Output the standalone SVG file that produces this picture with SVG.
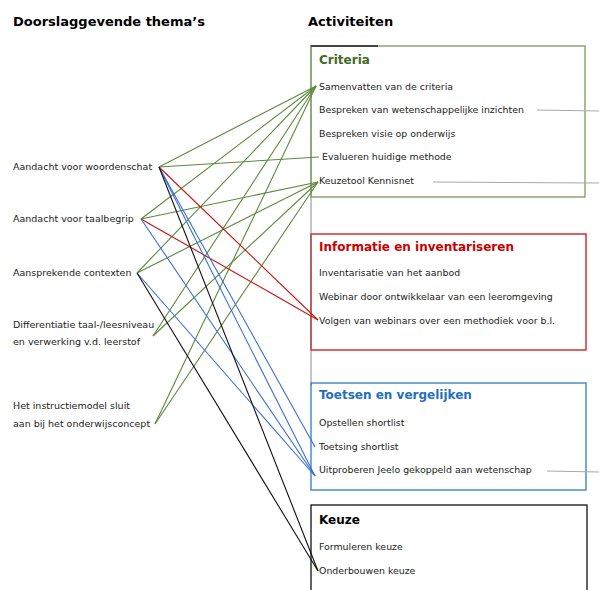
<svg xmlns="http://www.w3.org/2000/svg" width="599" height="590" viewBox="0 0 599 590">
  <style>
    text { font-family: "DejaVu Sans", Verdana, sans-serif; fill: #222; }
    .head { font-size: 13px; font-weight: bold; fill: #000; }
    .label { font-size: 9.5px; }
    .item { font-size: 9.4px; }
    .btitle { font-size: 12px; font-weight: bold; }
    .box { fill: none; stroke-width: 1.3; }
    .g { stroke: #5b8a3c; }
    .r { stroke: #cc1111; }
    .b { stroke: #3b6fd0; }
    .k { stroke: #111; }
    #connectors line { stroke-width: 1.1; fill: none; }
    .ref { stroke: #a8a8a8; stroke-width: 1.2; }
  </style>

  <!-- column headings -->
  <text class="head" x="13" y="26">Doorslaggevende thema’s</text>
  <text class="head" x="308" y="26">Activiteiten</text>

  <!-- grey spine along the activity boxes -->
  <line x1="311" y1="45" x2="311" y2="386" stroke="#c4c4c4" stroke-width="2"/>

  <!-- themes -->
  <g id="theme-woordenschat"><text class="label" x="13" y="170">Aandacht voor woordenschat</text></g>
  <g id="theme-taalbegrip"><text class="label" x="13" y="222">Aandacht voor taalbegrip</text></g>
  <g id="theme-contexten"><text class="label" x="13" y="276">Aansprekende contexten</text></g>
  <g id="theme-differentiatie">
    <text class="label" x="13" y="328">Differentiatie taal-/leesniveau</text>
    <text class="label" x="13" y="345">en verwerking v.d. leerstof</text>
  </g>
  <g id="theme-instructiemodel">
    <text class="label" x="13" y="409">Het instructiemodel sluit</text>
    <text class="label" x="13" y="427">aan bij het onderwijsconcept</text>
  </g>

  <!-- activity boxes -->
  <g id="box-criteria">
    <rect class="box" x="311" y="46" width="274" height="151" stroke="#779a5c"/>
    <line x1="311" y1="46" x2="378" y2="46" stroke="#222" stroke-width="1.3"/>
    <text class="btitle" x="319" y="64" style="fill:#3f6a25">Criteria</text>
    <text class="item" x="319" y="90">Samenvatten van de criteria</text>
    <text class="item" x="319" y="113">Bespreken van wetenschappelijke inzichten</text>
    <text class="item" x="319" y="137">Bespreken visie op onderwijs</text>
    <text class="item" x="322" y="160">Evalueren huidige methode</text>
    <text class="item" x="319" y="184">Keuzetool Kennisnet</text>
  </g>
  <g id="box-informatie">
    <rect class="box" x="311" y="234" width="275" height="116" stroke="#cc1111"/>
    <line x1="311" y1="234" x2="311" y2="350" stroke="#b06868" stroke-width="1.6"/>
    <text class="btitle" x="319" y="251" style="fill:#cc0000">Informatie en inventariseren</text>
    <text class="item" x="319" y="276">Inventarisatie van het aanbod</text>
    <text class="item" x="319" y="300">Webinar door ontwikkelaar van een leeromgeving</text>
    <text class="item" x="319" y="324">Volgen van webinars over een methodiek voor b.l.</text>
  </g>
  <g id="box-toetsen">
    <rect class="box" x="311" y="383" width="275" height="107" stroke="#2f7dc4"/>
    <text class="btitle" x="319" y="399" style="fill:#1f6fc2">Toetsen en vergelijken</text>
    <text class="item" x="319" y="426">Opstellen shortlist</text>
    <text class="item" x="319" y="450">Toetsing shortlist</text>
    <text class="item" x="319" y="473">Uitproberen Jeelo gekoppeld aan wetenschap</text>
  </g>
  <g id="box-keuze">
    <rect class="box" x="311" y="505" width="276" height="100" stroke="#111"/>
    <text class="btitle" x="319" y="524" style="fill:#000">Keuze</text>
    <text class="item" x="319" y="550">Formuleren keuze</text>
    <text class="item" x="319" y="574">Onderbouwen keuze</text>
  </g>

  <!-- connectors -->
  <g id="connectors">
    <!-- green: criteria -->
    <line class="g" x1="159" y1="167" x2="316" y2="86"/>
    <line class="g" x1="159" y1="167" x2="319" y2="157"/>
    <line class="g" x1="141" y1="219" x2="316" y2="86"/>
    <line class="g" x1="141" y1="219" x2="318" y2="182"/>
    <line class="g" x1="137" y1="273" x2="316" y2="86"/>
    <line class="g" x1="137" y1="273" x2="318" y2="182"/>
    <line class="g" x1="153" y1="336" x2="316" y2="86"/>
    <line class="g" x1="153" y1="336" x2="318" y2="182"/>
    <line class="g" x1="155" y1="424" x2="316" y2="86"/>
    <line class="g" x1="155" y1="424" x2="318" y2="182"/>
    <!-- red: informatie -->
    <line class="r" x1="159" y1="167" x2="318" y2="320"/>
    <line class="r" x1="141" y1="219" x2="318" y2="320"/>
    <!-- blue: toetsen -->
    <line class="b" x1="159" y1="167" x2="315" y2="447"/>
    <line class="b" x1="159" y1="167" x2="315" y2="476"/>
    <line class="b" x1="141" y1="219" x2="315" y2="476"/>
    <line class="b" x1="137" y1="273" x2="315" y2="476"/>
    <!-- black: keuze -->
    <line class="k" x1="159" y1="167" x2="318" y2="571"/>
    <line class="k" x1="137" y1="273" x2="318" y2="571"/>
    <!-- grey references leaving to the right -->
    <line class="ref" x1="537" y1="110" x2="599" y2="111"/>
    <line class="ref" x1="433" y1="182" x2="599" y2="183"/>
    <line class="ref" x1="547" y1="471" x2="599" y2="472"/>
  </g>
</svg>
